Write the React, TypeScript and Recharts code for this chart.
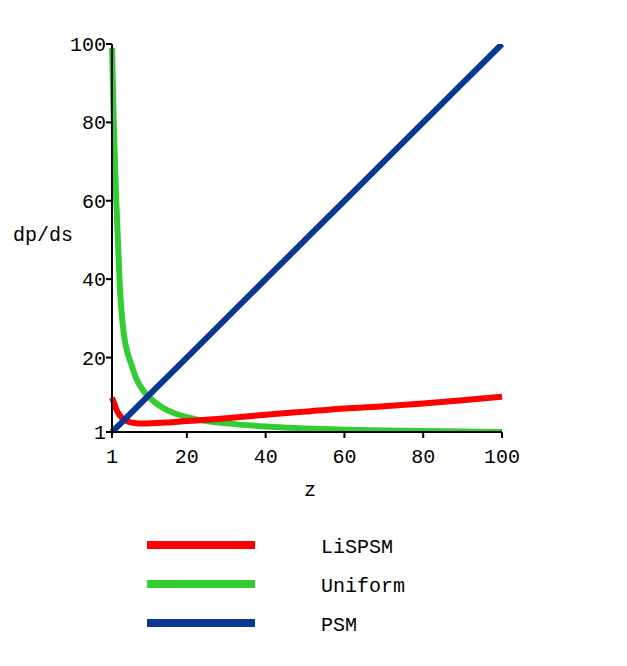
import React from "react";
import { LineChart, Line, XAxis, YAxis, Label } from "recharts";

// z values and readings of dp/ds off the plot
const psmZ = [1, 10, 20, 30, 40, 50, 60, 70, 80, 90, 100];
const psmY = [1, 10, 20, 30, 40, 50, 60, 70, 80, 90, 100];

const uniformZ = [1, 1.5, 2, 2.5, 3, 4, 5, 6, 7, 9, 12, 15, 20, 23, 30, 40, 50, 60, 70, 80, 90, 100];
const uniformY = [99, 78, 62, 50, 38, 26, 21, 18, 15, 11.5, 8.5, 6.6, 4.8, 4.1, 3.2, 2.4, 1.9, 1.6, 1.4, 1.25, 1.1, 1];

const lispsmZ = [1, 1.5, 2, 3, 4, 5, 6, 8, 10, 15, 20, 25, 30, 40, 50, 60, 70, 80, 90, 100];
const lispsmY = [9.8, 8.5, 7, 5.2, 4.2, 3.7, 3.4, 3.2, 3.2, 3.4, 3.8, 4.1, 4.5, 5.4, 6.2, 7, 7.6, 8.3, 9.1, 10];

const ticks = [1, 20, 40, 60, 80, 100];

const zip = (zs: number[], ys: number[]) => zs.map((z, i) => ({ z, y: ys[i] }));

const series = [
  { name: "LiSPSM", color: "#ff0000", data: zip(lispsmZ, lispsmY) },
  { name: "Uniform", color: "#33cc33", data: zip(uniformZ, uniformY) },
  { name: "PSM", color: "#0a3694", data: zip(psmZ, psmY) },
];

const font = "'Liberation Mono', 'Courier New', monospace";
const drawOrder = ["Uniform", "LiSPSM", "PSM"];

export default function App() {
  return (
    <div style={{ position: "absolute", left: 0, top: 0, width: 627, height: 666, background: "#fff" }}>
      <LineChart width={627} height={666} margin={{ top: 44, right: 125, bottom: 204, left: 0 }} style={{ fontFamily: font }}>
        <XAxis
          dataKey="z"
          type="number"
          domain={[1, 100]}
          ticks={ticks}
          allowDuplicatedCategory={false}
          height={30}
          stroke="#000"
          strokeWidth={2}
          tickSize={6}
          tickMargin={11}
          tick={{ fill: "#000", fontSize: 20, fontFamily: font }}
        >
          <Label
            content={({ viewBox }: any) => (
              <text x={viewBox.x + viewBox.width / 2 + 3} y={viewBox.y + 64} textAnchor="middle" fontSize={20} fontFamily={font} fill="#000">
                z
              </text>
            )}
          />
        </XAxis>
        <YAxis
          type="number"
          domain={[1, 100]}
          ticks={ticks}
          allowDataOverflow
          width={112}
          stroke="#000"
          strokeWidth={2}
          tickSize={6}
          tickMargin={0}
          tick={{ fill: "#000", fontSize: 20, fontFamily: font }}
        >
          <Label
            content={({ viewBox }: any) => (
              <text x={13} y={viewBox.y + viewBox.height / 2 + 3} fontSize={20} fontFamily={font} fill="#000">
                dp/ds
              </text>
            )}
          />
        </YAxis>
        {drawOrder.map((n) => {
          const s = series.find((x) => x.name === n)!;
          return (
            <Line
              key={s.name}
              data={s.data}
              dataKey="y"
              name={s.name}
              type="monotone"
              stroke={s.color}
              strokeWidth={6}
              dot={false}
              isAnimationActive={false}
            />
          );
        })}
      </LineChart>
      <svg width={627} height={140} style={{ position: "absolute", left: 0, top: 520 }}>
        {series.map((s, i) => (
          <g key={s.name}>
            <line x1={147} x2={255} y1={25 + i * 39} y2={25 + i * 39} stroke={s.color} strokeWidth={8} />
            <text x={321} y={33 + i * 39} fontSize={20} fontFamily={font} fill="#000">
              {s.name}
            </text>
          </g>
        ))}
      </svg>
    </div>
  );
}
